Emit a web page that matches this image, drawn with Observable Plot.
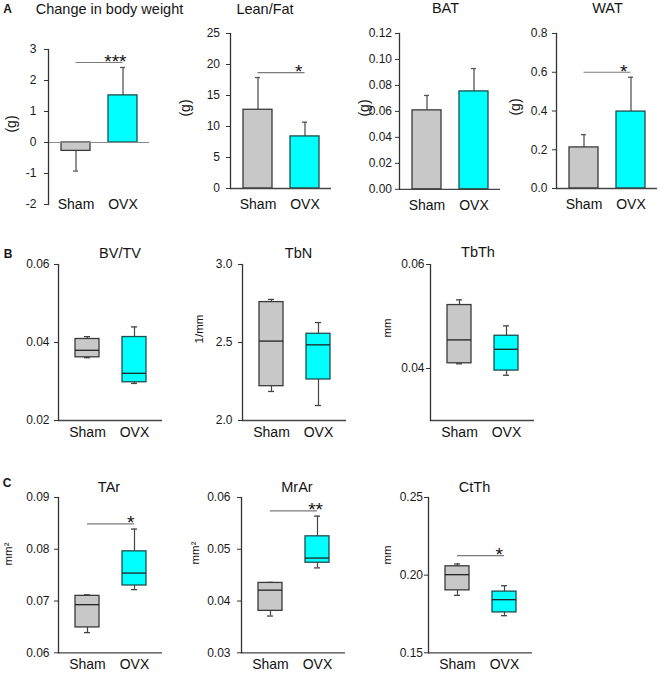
<!DOCTYPE html>
<html><head><meta charset="utf-8">
<script src="https://cdn.jsdelivr.net/npm/d3@7"></script>
<script src="https://cdn.jsdelivr.net/npm/@observablehq/plot@0.6"></script>
<style>
html,body{margin:0;padding:0;background:#fff;}
#fig{position:relative;width:660px;height:673px;overflow:hidden;font-family:"Liberation Sans",Arial,Helvetica,sans-serif;}
.t{position:absolute;white-space:nowrap;color:#151515;line-height:1;}
</style></head><body><div id="fig"></div>
<script>
// ---------- data ----------
const groups = ["Sham", "OVX"];

// Panel A: bar means and error sizes
const weightChange = [-0.27, 1.52];
const weightChangeErr = [0.65, 0.90];
const leanFat = [12.7, 8.4];
const leanFatErr = [5.2, 2.3];
const bat = [0.0608, 0.0754];
const batErr = [0.0115, 0.0176];
const wat = [0.212, 0.397];
const watErr = [0.066, 0.177];

// Panels B and C: box stats [min, q1, median, q3, max] for Sham, OVX
const bvtv = [[0.0361, 0.0362, 0.0380, 0.0409, 0.0415], [0.0295, 0.0298, 0.0321, 0.0414, 0.0440]];
const tbn = [[2.186, 2.220, 2.509, 2.759, 2.776], [2.096, 2.263, 2.485, 2.556, 2.628]];
const tbth = [[0.0409, 0.0410, 0.0455, 0.0522, 0.0532], [0.0387, 0.0396, 0.0437, 0.0463, 0.0482]];
const tar = [[0.0639, 0.0649, 0.0693, 0.0710, 0.0712], [0.0722, 0.0730, 0.0754, 0.0796, 0.0839]];
const mrar = [[0.0371, 0.0381, 0.0421, 0.0435, 0.0436], [0.0464, 0.0474, 0.0483, 0.0525, 0.0564]];
const ctth = [[0.1870, 0.1902, 0.2003, 0.2057, 0.2072], [0.1739, 0.1760, 0.1842, 0.1894, 0.1932]];

// significance brackets
const sigWeight = 2.58, sigLeanFat = 18.7, sigWat = 0.60, sigTar = 0.0849, sigMrar = 0.0574, sigCtth = 0.2126;

// tick values
const ticksWeight = [-2, -1, 0, 1, 2, 3];
const ticksLeanFat = [0, 5, 10, 15, 20, 25];
const ticksBat = [0, 0.02, 0.04, 0.06, 0.08, 0.10, 0.12];
const ticksWat = [0, 0.2, 0.4, 0.6, 0.8];
const ticksBvtv = [0.02, 0.04, 0.06];
const ticksTbn = [2.0, 2.5, 3.0];
const ticksTbth = [0.04, 0.06];
const ticksTar = [0.06, 0.07, 0.08, 0.09];
const ticksMrar = [0.03, 0.04, 0.05, 0.06];
const ticksCtth = [0.15, 0.20, 0.25];

// ---------- drawing ----------
const fig = document.getElementById("fig");
const FONT = "'Liberation Sans', Arial, Helvetica, sans-serif";
const FILLS = ["#c8c8c8", "#00ffff"];
const STROKES = ["#3a3a3a", "#1f4d4d"];
const ML = 50, MR = 8, MT = 28, MB = 34;
const BAR = {inner: 18 / 47, outer: 12.5 / 47, frameW: 101, bw: 29};
const BOX = {inner: 23 / 47, outer: 16.5 / 47, frameW: 104, bw: 24};

function place(cfg, marks) {
  const h = cfg.yBottom - cfg.yTop;
  const k = cfg.kind;
  const svg = Plot.plot({
    width: ML + k.frameW + MR,
    height: MT + h + MB,
    marginLeft: ML, marginRight: MR, marginTop: MT, marginBottom: MB,
    style: {background: "none", overflow: "visible", maxWidth: "none", fontFamily: FONT, color: "#222"},
    x: {type: "band", domain: groups, paddingInner: k.inner, paddingOuter: k.outer},
    y: {domain: cfg.domain},
    marks: [
      ...marks,
      cfg.bottomLine ? Plot.ruleY([cfg.domain[0]], {stroke: "#444", strokeWidth: 1.3}) : null,
      Plot.frame({anchor: "left", stroke: "#333", strokeWidth: 1.3}),
      Plot.axisY({ticks: cfg.ticks, tickFormat: cfg.fmt, tickSize: 4, tickPadding: cfg.tp, fontSize: 12, label: null, stroke: "#333", fill: "#1a1a1a"}),
      Plot.axisX({tickSize: 0, tickPadding: cfg.xtp, fontSize: 14, label: null, fill: "#111"})
    ]
  });
  svg.style.position = "absolute";
  svg.style.left = (cfg.axisX - ML) + "px";
  svg.style.top = (cfg.yTop - MT) + "px";
  fig.appendChild(svg);
}

function sigMarks(y, stars, bw, dx) {
  const row = [{y, a: "Sham", b: "OVX", s: stars}];
  return [
    Plot.ruleY(row, {y: "y", x1: "a", x2: "b", insetLeft: bw / 2, insetRight: bw / 2, stroke: "#7a7a7a", strokeWidth: 1.2}),
    Plot.text(row, {x: "b", y: "y", text: "s", textAnchor: "end", lineAnchor: "bottom", dx, dy: 5.5, fontSize: 19, fill: "#111"})
  ];
}

function barMarks(vals, errs) {
  const rows = groups.map((g, i) => ({g, v: vals[i], e: vals[i] + Math.sign(vals[i]) * errs[i]}));
  const m = [
    Plot.ruleX(rows, {x: "g", y1: "v", y2: "e", stroke: "#555", strokeWidth: 1.3}),
    Plot.tickY(rows, {x: "g", y: "e", stroke: "#555", strokeWidth: 1.3, insetLeft: 12, insetRight: 12})
  ];
  rows.forEach((r, i) => m.push(Plot.barY([r], {x: "g", y: "v", fill: FILLS[i], stroke: STROKES[i], strokeWidth: 1.3})));
  return m;
}

function boxMarks(stats) {
  const rows = groups.map((g, i) => ({g, min: stats[i][0], q1: stats[i][1], med: stats[i][2], q3: stats[i][3], max: stats[i][4]}));
  const m = [
    Plot.ruleX(rows, {x: "g", y1: "min", y2: "max", stroke: "#444", strokeWidth: 1.2}),
    Plot.tickY(rows, {x: "g", y: "min", stroke: "#444", strokeWidth: 1.3, insetLeft: 9, insetRight: 9}),
    Plot.tickY(rows, {x: "g", y: "max", stroke: "#444", strokeWidth: 1.3, insetLeft: 9, insetRight: 9})
  ];
  rows.forEach((r, i) => m.push(Plot.barY([r], {x: "g", y1: "q1", y2: "q3", fill: FILLS[i], stroke: STROKES[i], strokeWidth: 1.3})));
  m.push(Plot.tickY(rows, {x: "g", y: "med", stroke: "#222", strokeWidth: 1.3}));
  return m;
}

const f2 = d3.format(".2f"), f1 = d3.format(".1f");

// Row A
place({kind: BAR, axisX: 48, yTop: 49.3, yBottom: 204.3, domain: [-2, 3], ticks: ticksWeight, fmt: d => String(d), tp: 8, xtp: -5, bottomLine: false},
  [...barMarks(weightChange, weightChangeErr), Plot.ruleY([0], {stroke: "#8a8a8a", strokeWidth: 1.2}), ...sigMarks(sigWeight, "***", BAR.bw, 3.5)]);
place({kind: BAR, axisX: 230, yTop: 33.3, yBottom: 188.3, domain: [0, 25], ticks: ticksLeanFat, fmt: d => String(d), tp: 6.5, xtp: 11, bottomLine: true},
  [...barMarks(leanFat, leanFatErr), ...sigMarks(sigLeanFat, "*", BAR.bw, -2.5)]);
place({kind: BAR, axisX: 399, yTop: 32.5, yBottom: 188.3, domain: [0, 0.12], ticks: ticksBat, fmt: f2, tp: 3.5, xtp: 11, bottomLine: true},
  [...barMarks(bat, batErr)]);
place({kind: BAR, axisX: 556, yTop: 33.3, yBottom: 188.3, domain: [0, 0.8], ticks: ticksWat, fmt: f1, tp: 5, xtp: 11, bottomLine: true},
  [...barMarks(wat, watErr), ...sigMarks(sigWat, "*", BAR.bw, -3.5)]);

// Row B
place({kind: BOX, axisX: 58, yTop: 264, yBottom: 420, domain: [0.02, 0.06], ticks: ticksBvtv, fmt: f2, tp: 5, xtp: 7, bottomLine: true}, boxMarks(bvtv));
place({kind: BOX, axisX: 242, yTop: 264, yBottom: 420, domain: [2.0, 3.0], ticks: ticksTbn, fmt: f1, tp: 6, xtp: 7, bottomLine: true}, boxMarks(tbn));
place({kind: BOX, axisX: 430, yTop: 264, yBottom: 420, domain: [0.03, 0.06], ticks: ticksTbth, fmt: f2, tp: 2, xtp: 7, bottomLine: true}, boxMarks(tbth));

// Row C
place({kind: BOX, axisX: 58, yTop: 497, yBottom: 652.3, domain: [0.06, 0.09], ticks: ticksTar, fmt: f2, tp: 5, xtp: 6.5, bottomLine: true},
  [...boxMarks(tar), ...sigMarks(sigTar, "*", BOX.bw, 0)]);
place({kind: BOX, axisX: 241, yTop: 497, yBottom: 652.3, domain: [0.03, 0.06], ticks: ticksMrar, fmt: f2, tp: 7, xtp: 6.5, bottomLine: true},
  [...boxMarks(mrar), ...sigMarks(sigMrar, "**", BOX.bw, 5.5)]);
place({kind: BOX, axisX: 428, yTop: 497, yBottom: 652.3, domain: [0.15, 0.25], ticks: ticksCtth, fmt: f2, tp: 1.5, xtp: 6.5, bottomLine: true},
  [...boxMarks(ctth), ...sigMarks(sigCtth, "*", BOX.bw, -1.5)]);

// ---------- text ----------
function label(text, cx, baseline, size, bold) {
  const d = document.createElement("div");
  d.className = "t";
  d.textContent = text;
  d.style.fontSize = size + "px";
  d.style.left = cx + "px";
  d.style.top = (baseline - 0.85 * size) + "px";
  d.style.transform = "translateX(-50%)";
  if (bold) d.style.fontWeight = "bold";
  fig.appendChild(d);
}
function vlabel(text, cx, cy, size) {
  const d = document.createElement("div");
  d.className = "t";
  d.textContent = text;
  d.style.fontSize = size + "px";
  d.style.left = cx + "px";
  d.style.top = cy + "px";
  d.style.transform = "translate(-50%,-50%) rotate(-90deg)";
  fig.appendChild(d);
}

label("A", 7.5, 13, 12, true);
label("Change in body weight", 109.5, 14, 14.5);
label("Lean/Fat", 265, 14, 14.5);
label("BAT", 445.5, 13.5, 14.5);
label("WAT", 607.5, 13.5, 14.5);
label("B", 8, 258, 12, true);
label("BV/TV", 120, 258, 14.5);
label("TbN", 298.5, 258, 14.5);
label("TbTh", 478, 257.5, 14.5);
label("C", 7, 487.5, 12, true);
label("TAr", 109, 492, 14.5);
label("MrAr", 297, 492, 14.5);
label("CtTh", 474.5, 492, 14.5);

vlabel("(g)", 11, 124, 14);
vlabel("(g)", 185, 108, 14);
vlabel("(g)", 363.5, 108, 14);
vlabel("(g)", 514.5, 107, 14);
vlabel("1/mm", 200, 329, 11.5);
vlabel("mm", 388, 328, 11.5);
vlabel("mm²", 9, 553.5, 11.5);
vlabel("mm²", 196, 553, 11.5);
vlabel("mm", 388, 555, 11.5);
</script></body></html>
